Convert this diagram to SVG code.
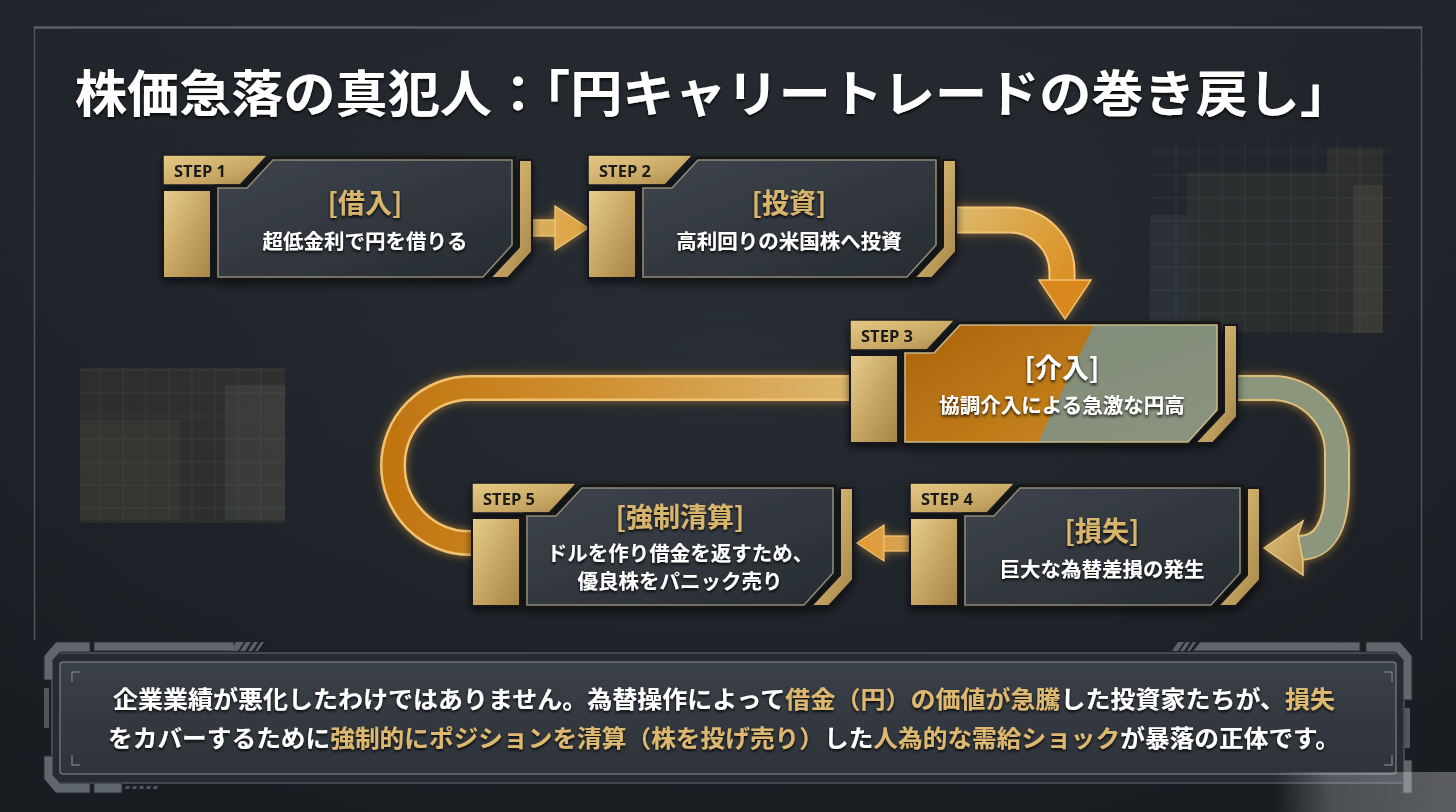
<svg xmlns="http://www.w3.org/2000/svg" width="1456" height="812" viewBox="0 0 1456 812">
<defs>
<style>
.tab{fill:url(#gTab);stroke:#1a1c20;stroke-width:1.5}
.block{fill:url(#gGold);stroke:#15171a;stroke-width:2}
.bracket{fill:url(#gGold);stroke:#15171a;stroke-width:2}
.pout{fill:none;stroke:#121417;stroke-width:7;stroke-linejoin:miter}
.panel{fill:url(#gPanel);stroke:#8e8a78;stroke-width:1.6}
.steplbl{font-family:"Open Sans","Noto Sans",sans-serif;font-weight:700;font-size:16.5px;fill:#1b1b1b}
.ttl{font-family:"Noto Sans CJK JP",sans-serif;font-weight:700;font-size:27px;fill:#d8b56c;text-anchor:middle;filter:url(#tsh)}
.sub{font-family:"Noto Sans CJK JP",sans-serif;font-weight:700;font-size:20.5px;fill:#ffffff;text-anchor:middle;filter:url(#tsh)}
.body{font-family:"Noto Sans CJK JP",sans-serif;font-weight:700;font-size:24px;fill:#ffffff;filter:url(#tsh)}
.hl{fill:#dcb870}
.grid{stroke:#9aa4ae;stroke-width:1;opacity:.1}
.gray{fill:#5f666e;stroke:#2a2e33;stroke-width:1}
</style>
<linearGradient id="gBg" x1="0" y1="0" x2="0" y2="1">
<stop offset="0" stop-color="#2b3139"/><stop offset=".5" stop-color="#20252b"/><stop offset="1" stop-color="#1b1f24"/>
</linearGradient>
<radialGradient id="gVig" cx=".5" cy=".45" r=".7">
<stop offset="0" stop-color="#2c323a" stop-opacity=".6"/><stop offset="1" stop-color="#15181c" stop-opacity=".5"/>
</radialGradient>
<linearGradient id="gTab" x1="0" y1="0" x2="1" y2="1">
<stop offset="0" stop-color="#e6c985"/><stop offset=".6" stop-color="#c9a865"/><stop offset="1" stop-color="#a98a4c"/>
</linearGradient>
<linearGradient id="gGold" x1="0" y1="0" x2="1" y2="1">
<stop offset="0" stop-color="#e8cd8d"/><stop offset=".5" stop-color="#c8a764"/><stop offset="1" stop-color="#a38547"/>
</linearGradient>
<linearGradient id="gPanel" x1="0" y1="0" x2="1" y2="1">
<stop offset="0" stop-color="#3e444c"/><stop offset="1" stop-color="#272c32"/>
</linearGradient>
<linearGradient id="gOrange" x1="0" y1="0" x2="1" y2="1">
<stop offset="0" stop-color="#a9620c"/><stop offset="1" stop-color="#c9861f"/>
</linearGradient>
<linearGradient id="gSage" x1="0" y1="0" x2="1" y2="1">
<stop offset="0" stop-color="#7e8a76"/><stop offset="1" stop-color="#8a947f"/>
</linearGradient>
<linearGradient id="gA1" x1="532" y1="0" x2="590" y2="0" gradientUnits="userSpaceOnUse">
<stop offset="0" stop-color="#d9b062"/><stop offset="1" stop-color="#e2a23c"/>
</linearGradient>
<linearGradient id="gA2" x1="956" y1="215" x2="1075" y2="310" gradientUnits="userSpaceOnUse">
<stop offset="0" stop-color="#dbb86c"/><stop offset=".55" stop-color="#dd9d38"/><stop offset="1" stop-color="#d8881c"/>
</linearGradient>
<linearGradient id="gA4" x1="855" y1="0" x2="910" y2="0" gradientUnits="userSpaceOnUse">
<stop offset="0" stop-color="#e39a2f"/><stop offset="1" stop-color="#d6a458"/>
</linearGradient>
<linearGradient id="gA5" x1="380" y1="0" x2="850" y2="0" gradientUnits="userSpaceOnUse">
<stop offset="0" stop-color="#c0730e"/><stop offset=".45" stop-color="#d08f30"/><stop offset="1" stop-color="#dcb66e"/>
</linearGradient>
<linearGradient id="gHead3" x1="0" y1="0" x2="1" y2="1">
<stop offset="0" stop-color="#dcbc78"/><stop offset="1" stop-color="#b8954f"/>
</linearGradient>
<linearGradient id="gBox" x1="0" y1="0" x2="0" y2="1">
<stop offset="0" stop-color="#3a4048"/><stop offset="1" stop-color="#2e333a"/>
</linearGradient>
<linearGradient id="gWm" x1="0" y1="0" x2="1" y2="0">
<stop offset="0" stop-color="#e8e8e8" stop-opacity="0"/><stop offset=".3" stop-color="#e8e8e8" stop-opacity=".55"/><stop offset="1" stop-color="#eeeeee" stop-opacity=".7"/>
</linearGradient>
<filter id="tsh" x="-10%" y="-30%" width="120%" height="160%">
<feDropShadow dx="0" dy="2" stdDeviation="1.6" flood-color="#000" flood-opacity=".85"/>
</filter>
<filter id="glow" x="-20%" y="-20%" width="140%" height="140%">
<feDropShadow dx="0" dy="0" stdDeviation="5" flood-color="#f0a330" flood-opacity=".55"/>
</filter>
<filter id="psh" x="-10%" y="-10%" width="120%" height="130%">
<feDropShadow dx="0" dy="4" stdDeviation="4" flood-color="#000" flood-opacity=".6"/>
</filter>
<clipPath id="c3"><polygon points="55,33 84,33 110,5 367,5 367,90 338,122 55,122"/></clipPath>
</defs>

<!-- background -->
<rect width="1456" height="812" fill="url(#gBg)"/>
<rect width="1456" height="812" fill="url(#gVig)"/>

<!-- background decorations -->
<g id="decor">
<rect x="80" y="368" width="205" height="155" fill="#8a7a50" opacity=".14"/>
<rect x="225" y="385" width="60" height="135" fill="#a0a8a0" opacity=".1"/>
<rect x="80" y="420" width="100" height="100" fill="#b09a60" opacity=".07"/>
<g class="grid">
<path d="M80 370H286M80 393H286M80 416H286M80 439H286M80 462H286M80 485H286M80 508H286"/>
<path d="M100 368V522M123 368V522M146 368V522M169 368V522M192 368V522M215 368V522M238 368V522M261 368V522"/>
</g>
<rect x="1187" y="172" width="140" height="160" fill="#8a7a50" opacity=".1"/>
<rect x="1327" y="148" width="56" height="185" fill="#8a7a50" opacity=".12"/>
<rect x="1353" y="185" width="30" height="148" fill="#b8a470" opacity=".1"/>
<rect x="1150" y="215" width="37" height="118" fill="#7d8e9c" opacity=".1"/>
<g class="grid">
<path d="M1150 152H1395M1150 175H1395M1150 198H1395M1150 221H1395M1150 244H1395M1150 267H1395M1150 290H1395M1150 313H1395"/>
<path d="M1176 140V335M1199 140V335M1222 140V335M1245 140V335M1268 140V335M1291 140V335M1314 140V335M1337 140V335M1360 140V335"/>
</g>
</g>

<!-- outer frame (open at bottom) -->
<path d="M34.5,640 V27.5 H1421.5 V640" fill="none" stroke="#4c545e" stroke-width="1.5"/>
<line x1="34" y1="27.5" x2="1422" y2="27.5" stroke="#5e6770" stroke-width="2"/>

<!-- title -->
<text id="title" x="75" y="112" font-family="Noto Sans CJK JP, sans-serif" font-weight="700" font-size="50" fill="#ffffff" textLength="1277" lengthAdjust="spacingAndGlyphs" filter="url(#tsh)">株価急落の真犯人：「円キャリートレードの巻き戻し」</text>

<!-- connectors -->
<g id="connectors" filter="url(#glow)">
<g id="c12">
<rect x="531" y="220" width="32" height="16" fill="url(#gA1)" stroke="#f3cf82" stroke-width="1.2"/>
<polygon points="555,206 588,228 555,250" fill="url(#gA1)" stroke="#f3cf82" stroke-width="1.2"/>
</g>
<g id="c23">
<path d="M955,220 H1010 A52,52 0 0 1 1062,272 V284" fill="none" stroke="#f2c676" stroke-width="27"/>
<path d="M955,220 H1010 A52,52 0 0 1 1062,272 V286" fill="none" stroke="url(#gA2)" stroke-width="23"/>
<polygon points="1039,280 1091,280 1065,319" fill="#d8881e" stroke="#f3c070" stroke-width="1.5"/>
</g>
<g id="c34">
<path d="M1236,388 H1272 A65,65 0 0 1 1337,453 V485 Q1337,548 1298,548" fill="none" stroke="#dcbf7a" stroke-width="26"/>
<path d="M1236,388 H1272 A65,65 0 0 1 1337,453 V485 Q1337,548 1300,548" fill="none" stroke="#8c967b" stroke-width="22"/>
<polygon points="1264,548 1303,521 1298,535 1303,561 1303,575" fill="url(#gHead3)" stroke="#e6c680" stroke-width="1.5"/>
</g>
<g id="c45">
<rect x="878" y="536" width="33" height="15" fill="url(#gA4)" stroke="#f3c77a" stroke-width="1.2"/>
<polygon points="884,525 857,543 884,561" fill="url(#gA4)" stroke="#f3c77a" stroke-width="1.2"/>
</g>
<g id="c35">
<path d="M852,388 H470 A77,77.5 0 0 0 470,543 H474" fill="none" stroke="#f0c270" stroke-width="26"/>
<path d="M852,388 H470 A77,77.5 0 0 0 470,543 H474" fill="none" stroke="url(#gA5)" stroke-width="21"/>
</g>
</g>

<!-- STEP 1 -->
<g id="step1" transform="translate(163,155)" filter="url(#psh)">
<polygon class="tab" points="0,0 105,0 77,30 0,30"/>
<text class="steplbl" x="11" y="22">STEP 1</text>
<rect class="block" x="0" y="35" width="48" height="88"/>
<polygon class="pout" points="55,33 84,33 110,5 349,5 349,90 320,122 55,122"/>
<polygon class="panel" points="55,33 84,33 110,5 349,5 349,90 320,122 55,122"/>
<polygon class="bracket" points="356,5 369,5 369,97 345,123 327,123 356,92"/>
<text class="ttl" x="202" y="58">[借入]</text>
<text class="sub" x="202" y="94">超低金利で円を借りる</text>
</g>

<!-- STEP 2 -->
<g id="step2" transform="translate(588,155)" filter="url(#psh)">
<polygon class="tab" points="0,0 105,0 77,30 0,30"/>
<text class="steplbl" x="11" y="22">STEP 2</text>
<rect class="block" x="0" y="35" width="48" height="88"/>
<polygon class="pout" points="55,33 84,33 110,5 348,5 348,90 319,122 55,122"/>
<polygon class="panel" points="55,33 84,33 110,5 348,5 348,90 319,122 55,122"/>
<polygon class="bracket" points="355,5 368,5 368,97 344,123 326,123 355,92"/>
<text class="ttl" x="201" y="58">[投資]</text>
<text class="sub" x="201" y="94">高利回りの米国株へ投資</text>
</g>

<!-- STEP 3 -->
<g id="step3" transform="translate(850,320)" filter="url(#psh)">
<polygon class="tab" points="0,0 105,0 77,30 0,30"/>
<text class="steplbl" x="11" y="22">STEP 3</text>
<rect class="block" x="0" y="35" width="48" height="88"/>
<polygon class="pout" points="55,33 84,33 110,5 367,5 367,90 338,122 55,122"/>
<g clip-path="url(#c3)">
<rect x="55" y="5" width="312" height="117" fill="url(#gSage)"/>
<polygon points="40,0 246,0 187,125 40,125" fill="url(#gOrange)"/>
</g>
<polygon points="55,33 84,33 110,5 367,5 367,90 338,122 55,122" fill="none" stroke="#c9b786" stroke-width="1.6"/>
<polygon class="bracket" points="374,5 387,5 387,97 363,123 345,123 374,92"/>
<text class="ttl" x="212" y="58" style="fill:#ffffff">[介入]</text>
<text class="sub" x="212" y="93">協調介入による急激な円高</text>
</g>

<!-- STEP 4 -->
<g id="step4" transform="translate(910,483)" filter="url(#psh)">
<polygon class="tab" points="0,0 105,0 77,30 0,30"/>
<text class="steplbl" x="11" y="22">STEP 4</text>
<rect class="block" x="0" y="35" width="48" height="88"/>
<polygon class="pout" points="55,33 84,33 110,5 330,5 330,90 301,122 55,122"/>
<polygon class="panel" points="55,33 84,33 110,5 330,5 330,90 301,122 55,122"/>
<polygon class="bracket" points="337,5 350,5 350,97 326,123 308,123 337,92"/>
<text class="ttl" x="192" y="58">[損失]</text>
<text class="sub" x="192" y="94">巨大な為替差損の発生</text>
</g>

<!-- STEP 5 -->
<g id="step5" transform="translate(472,483)" filter="url(#psh)">
<polygon class="tab" points="0,0 105,0 77,30 0,30"/>
<text class="steplbl" x="11" y="22">STEP 5</text>
<rect class="block" x="0" y="35" width="48" height="88"/>
<polygon class="pout" points="55,33 84,33 110,5 361,5 361,90 332,122 55,122"/>
<polygon class="panel" points="55,33 84,33 110,5 361,5 361,90 332,122 55,122"/>
<polygon class="bracket" points="368,5 381,5 381,97 357,123 339,123 368,92"/>
<text class="ttl" x="208" y="44">[強制清算]</text>
<text class="sub" x="208" y="78">ドルを作り借金を返すため、</text>
<text class="sub" x="208" y="106">優良株をパニック売り</text>
</g>

<!-- bottom summary box -->
<g id="summary">
<rect x="52" y="653" width="1352" height="130" rx="3" fill="#262b31" stroke="#4f565e" stroke-width="1.5"/>
<rect x="60" y="662" width="1336" height="112" rx="3" fill="url(#gBox)" stroke="#6b727a" stroke-width="1.5"/>
<path d="M44,680 L44,656 L56,642 L90,642 L90,652 L60,652 L53,660 L53,680 Z" class="gray"/>
<path d="M44,756 L44,779 L56,793 L90,793 L90,783 L60,783 L53,775 L53,756 Z" class="gray"/>
<rect x="44" y="688" width="5" height="40" fill="#50575f"/>
<rect x="94" y="642" width="140" height="9" class="gray"/>
<path d="M236,642l8,0l-6,9l-8,0zM246,642l5,0l-6,9l-5,0zM254,642l4,0l-6,9l-4,0zM261,642l3,0l-6,9l-3,0z" fill="#5a6168"/>
<rect x="94" y="783" width="28" height="10" class="gray"/>
<path d="M126,786h4l-1,3h-4zM133,786h4l-1,3h-4zM140,786h4l-1,3h-4zM147,786h4l-1,3h-4zM154,786h4l-1,3h-4z" fill="#4e555c"/>
<path d="M1412,700 L1412,656 L1400,642 L1366,642 L1366,652 L1396,652 L1403,660 L1403,700 Z" class="gray"/>
<rect x="1405" y="708" width="5" height="40" fill="#50575f"/>
<path d="M1403,760 L1412,760 L1412,793 L1403,793 Z" class="gray"/>
<path d="M1200,642 L1360,642 L1360,651 L1193,651 Z" class="gray"/>
<path d="M1178,642l6,0l-6,9l-6,0zM1186,642l4,0l-6,9l-4,0zM1193,642l3,0l-6,9l-3,0z" fill="#5a6168"/>
<path d="M72,682V672H80M72,755V765H80M1384,672H1392V682M1392,755V765H1384" fill="none" stroke="#6f767e" stroke-width="1.5"/>
<text class="body" x="113" y="708" textLength="1222" lengthAdjust="spacingAndGlyphs">企業業績が悪化したわけではありません。為替操作によって<tspan class="hl">借金（円）の価値が急騰</tspan>した投資家たちが、<tspan class="hl">損失</tspan></text>
<text class="body" x="108" y="747" textLength="1232" lengthAdjust="spacingAndGlyphs">をカバーするために<tspan class="hl">強制的にポジションを清算（株を投げ売り）</tspan>した<tspan class="hl">人為的な需給ショック</tspan>が暴落の正体です。</text>
</g>
<rect x="1275" y="772" width="181" height="40" fill="url(#gWm)" opacity=".45"/>
</svg>
